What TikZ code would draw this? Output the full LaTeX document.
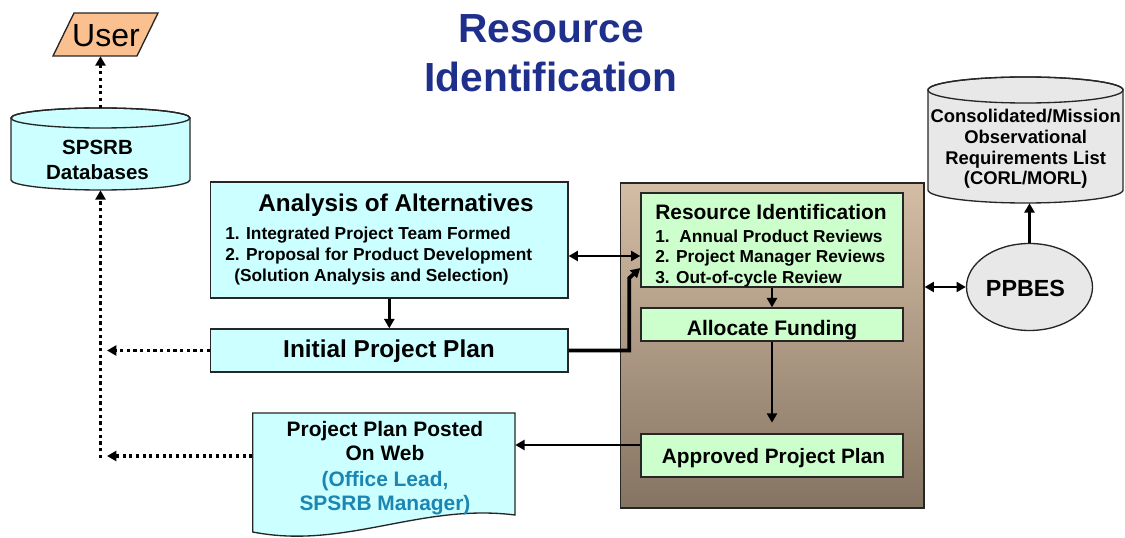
\documentclass[tikz,border=0pt]{standalone}
\usepackage{fontspec}
\setmainfont{Liberation Sans}
\usetikzlibrary{arrows.meta,shapes.geometric,calc}
\definecolor{cyanfill}{HTML}{CCFFFF}
\definecolor{greenfill}{HTML}{CCFFCC}
\definecolor{grayfill}{HTML}{E8E8E8}
\definecolor{userfill}{HTML}{FAC090}
\definecolor{titleblue}{HTML}{1F2F8C}
\definecolor{noteblue}{HTML}{1B86B3}
\definecolor{paneltop}{HTML}{D4BDA5}
\definecolor{panelbot}{HTML}{857462}
\definecolor{edge}{HTML}{262626}
\tikzset{
  box/.style={draw=edge, line width=1pt, inner sep=0pt, anchor=center},
  cbox/.style={box, fill=cyanfill},
  gbox/.style={box, fill=greenfill},
  ghost/.style={inner sep=0pt, anchor=center},
  lbl/.style={inner sep=0pt, font=\bfseries},
  tip/.tip={Triangle[length=7pt,width=7.5pt]},
  arr/.style={line width=2pt, -tip},
  thickarr/.style={line width=2.8pt, -tip},
  dbl/.style={line width=2pt, tip-tip},
  dotline/.style={line width=2.6pt, dash pattern=on 2.4pt off 2.6pt},
  dotarr/.style={dotline, -tip},
}
\begin{document}
\begin{tikzpicture}[x=0.75pt,y=0.75pt]
\useasboundingbox (0,0) rectangle (1125,-538);

% ---------- title
\node[lbl, font=\fontsize{30.5}{33}\bfseries, text=titleblue, anchor=base] (t1) at (551,-43) {Resource};
\node[lbl, font=\fontsize{30.5}{33}\bfseries, text=titleblue, anchor=base] (t2) at (551,-92) {Identification};

% ---------- User (parallelogram)
\filldraw[fill=userfill, draw=edge, line width=1pt] (53,-56) -- (137,-56) -- (158,-13) -- (74,-13) -- cycle;
\node[ghost, minimum width=78pt, minimum height=32.25pt] (user) at (105.5,-34.5) {};
\node[inner sep=0pt, font=\fontsize{24}{26}\selectfont, anchor=base] (usertxt) at (106,-46.7) {User};

% ---------- SPSRB cylinder
\filldraw[fill=cyanfill, draw=edge, line width=1pt] (11,-118) -- (11,-180)
  arc[start angle=180,end angle=360,x radius=89.5,y radius=10] -- (190,-118)
  arc[start angle=0,end angle=180,x radius=89.5,y radius=10] -- cycle;
\draw[edge, line width=1pt] (100.5,-118) ellipse[x radius=89.5,y radius=10];
\node[ghost, minimum width=134.25pt, minimum height=61.5pt] (spsrb) at (100.5,-149) {};
\node[lbl, font=\fontsize{15.4}{17}\bfseries, anchor=base] (sp1) at (97.5,-155) {SPSRB};
\node[lbl, font=\fontsize{15.4}{17}\bfseries, anchor=base] (sp2) at (97.5,-180) {Databases};

% ---------- Analysis of Alternatives
\node[cbox, minimum width=268pt, minimum height=87pt] (analysis) at (389.3,-240) {};
\node[lbl, font=\fontsize{18.2}{20}\bfseries, anchor=base] (an0) at (396,-212) {Analysis of Alternatives};
\node[lbl, font=\fontsize{13}{15}\bfseries, anchor=base west] (an1) at (225,-240) {1. Integrated Project Team Formed};
\node[lbl, font=\fontsize{13}{15}\bfseries, anchor=base west] (an2) at (225,-261) {2. Proposal for Product Development};
\node[lbl, font=\fontsize{13}{15}\bfseries, anchor=base west] (an3) at (234,-282) {(Solution Analysis and Selection)};

% ---------- Initial Project Plan
\node[cbox, minimum width=268pt, minimum height=32.25pt] (init) at (389.3,-350.5) {};
\node[lbl, font=\fontsize{18.3}{20}\bfseries, anchor=base] (inittxt) at (389,-358) {Initial Project Plan};

% ---------- Project Plan Posted On Web (document)
\filldraw[fill=cyanfill, draw=edge, line width=1pt] (252.7,-413) -- (515,-413) -- (515,-515)
  .. controls (420,-503) and (345,-550) .. (252.7,-532) -- cycle;
\node[ghost, minimum width=196.7pt, minimum height=48pt] (doc) at (383.85,-445) {};
\node[lbl, font=\fontsize{15.7}{17}\bfseries, anchor=base] (d1) at (385,-436) {Project Plan Posted};
\node[lbl, font=\fontsize{15.7}{17}\bfseries, anchor=base] (d2) at (385,-460) {On Web};
\node[lbl, font=\fontsize{15.7}{17}\bfseries, text=noteblue, anchor=base] (d3) at (385,-486) {(Office Lead,};
\node[lbl, font=\fontsize{15.7}{17}\bfseries, text=noteblue, anchor=base] (d4) at (385,-510) {SPSRB Manager)};

% ---------- brown panel
\node[box, draw=edge, top color=paneltop, bottom color=panelbot, minimum width=227.6pt, minimum height=243.75pt] (panel) at (772.25,-345.5) {};

\node[gbox, minimum width=196.5pt, minimum height=70.5pt] (resid) at (772,-240) {};
\node[lbl, font=\fontsize{15.7}{17}\bfseries, anchor=base west] (r0) at (655,-220) {Resource Identification};
\node[lbl, font=\fontsize{13}{15}\bfseries, anchor=base west] (r1) at (655,-243) {1.\ \ Annual Product Reviews};
\node[lbl, font=\fontsize{13}{15}\bfseries, anchor=base west] (r2) at (655,-263) {2. Project Manager Reviews};
\node[lbl, font=\fontsize{13}{15}\bfseries, anchor=base west] (r3) at (655,-284) {3. Out-of-cycle Review};

\node[gbox, minimum width=196.5pt, minimum height=24.75pt] (alloc) at (772,-324.5) {};
\node[lbl, font=\fontsize{15.75}{17}\bfseries, anchor=base] (alloctxt) at (772,-336) {Allocate Funding};

\node[gbox, minimum width=196.5pt, minimum height=32.25pt] (approved) at (772,-455.5) {};
\node[lbl, font=\fontsize{15.6}{17}\bfseries, anchor=base] (apptxt) at (773.5,-463) {Approved Project Plan};

% ---------- PPBES
\node[box, ellipse, fill=grayfill, minimum width=94.5pt, minimum height=65.25pt] (ppbes) at (1029.5,-287) {};
\node[lbl, font=\fontsize{17.5}{19}\bfseries, anchor=base] (pptxt) at (1025.5,-297) {PPBES};

% ---------- CORL/MORL cylinder
\filldraw[fill=grayfill, draw=edge, line width=1pt] (928,-90) -- (928,-190)
  arc[start angle=180,end angle=360,x radius=97.5,y radius=13] -- (1123,-90)
  arc[start angle=0,end angle=180,x radius=97.5,y radius=13] -- cycle;
\draw[edge, line width=1pt] (1025.5,-90) ellipse[x radius=97.5,y radius=13];
\node[ghost, minimum width=146.25pt, minimum height=94.5pt] (corl) at (1025.5,-140) {};
\node[lbl, font=\fontsize{13.8}{15}\bfseries, anchor=base] (c1) at (1025.7,-123) {Consolidated/Mission};
\node[lbl, font=\fontsize{13.8}{15}\bfseries, anchor=base] (c2) at (1025.7,-144) {Observational};
\node[lbl, font=\fontsize{13.8}{15}\bfseries, anchor=base] (c3) at (1025.7,-165) {Requirements List};
\node[lbl, font=\fontsize{13.8}{15}\bfseries, anchor=base] (c4) at (1025.7,-185) {(CORL/MORL)};

% ---------- connectors
\coordinate (bus) at (100.5,-458);
\coordinate (busr) at (107,-456);
\draw[dotarr] (spsrb.north) -- (spsrb.north |- user.south);
\draw[dotarr] (init.west) -- (init.west -| busr);
\draw[dotarr] (doc.west |- busr) -- (busr);
\draw[dotarr] (bus) -- (spsrb.south -| bus);

\draw[arr] (analysis.south) -- (init.north);
\draw[dbl] ([yshift=-12pt]analysis.east) -- ([yshift=-12pt]resid.west);
\draw[thickarr] (init.east) -| ([xshift=-8.25pt,yshift=-28.5pt]resid.west) -- ([yshift=-21pt]resid.west);
\draw[arr] (resid.south) -- (alloc.north);
\draw[arr, shorten >=8pt] (alloc.south) -- (approved.north);
\draw[arr] (approved.west |- doc.east) -- (doc.east);
\draw[dbl] (panel.east |- ppbes.west) -- (ppbes.west);
\draw[thickarr] (ppbes.north) -- (ppbes.north |- corl.south);
\end{tikzpicture}
\end{document}
